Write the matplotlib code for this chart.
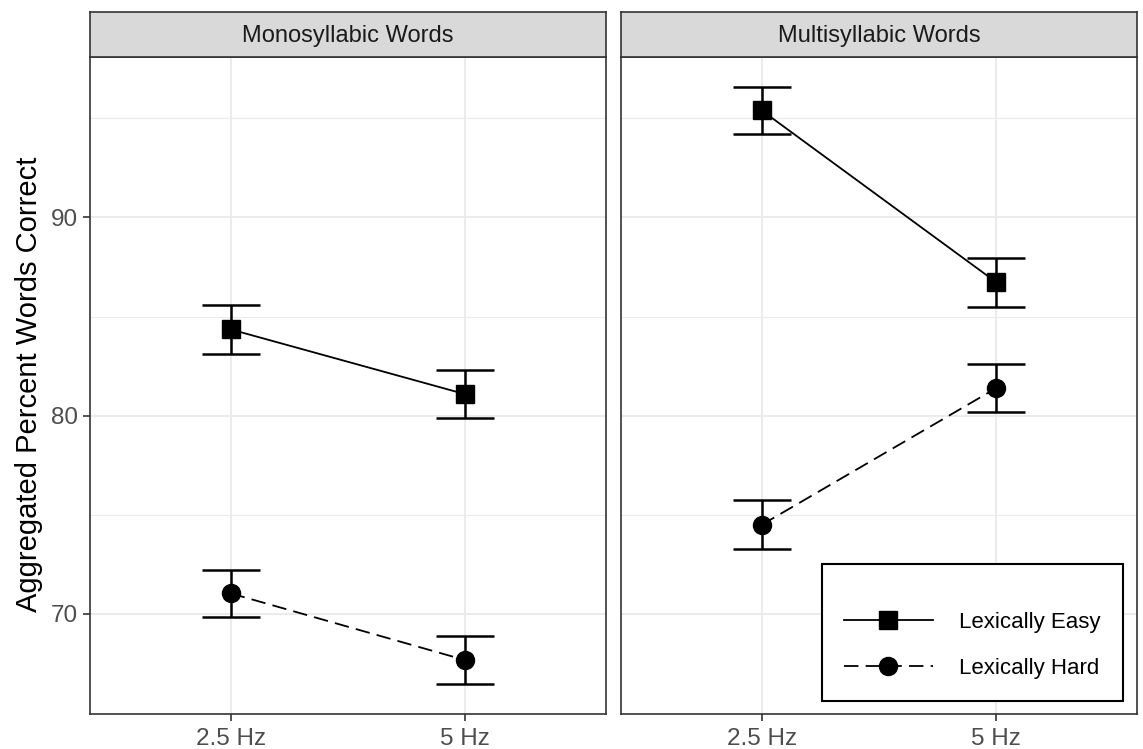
import matplotlib
matplotlib.use("Agg")
import matplotlib.pyplot as plt
import numpy as np

plt.rcParams["font.family"] = ["Liberation Sans", "DejaVu Sans"]

# data
freq_labels = ["2.5 Hz", "5 Hz"]
panel_titles = ["Monosyllabic Words", "Multisyllabic Words"]
series_names = ["Lexically Easy", "Lexically Hard"]

mono_easy = [84.35, 81.08]
mono_easy_se = [1.22, 1.20]
mono_hard = [71.03, 67.66]
mono_hard_se = [1.20, 1.21]

multi_easy = [95.40, 86.73]
multi_easy_se = [1.19, 1.24]
multi_hard = [74.49, 81.39]
multi_hard_se = [1.24, 1.22]

panel_data = [
    [(mono_easy, mono_easy_se), (mono_hard, mono_hard_se)],
    [(multi_easy, multi_easy_se), (multi_hard, multi_hard_se)],
]

# ggplot-like y range: data extent (incl. error bars) + 5% expansion
lows, highs = [], []
for panel in panel_data:
    for vals, se in panel:
        lows += list(np.array(vals) - np.array(se))
        highs += list(np.array(vals) + np.array(se))
ymin, ymax = min(lows), max(highs)
pad = 0.05 * (ymax - ymin)
ylim = (ymin - pad, ymax + pad)

styles = [
    dict(marker="s", linestyle="-"),
    dict(marker="o", linestyle=(0, (8, 4))),
]

W, H = 1143, 749
fig = plt.figure(figsize=(W / 100, H / 100), dpi=100)

panel_left = [90, 621]
panel_w = 516
panel_top, panel_bot = 57, 714
strip_top = 12

x = np.arange(1, len(freq_labels) + 1)
axes = []
for i, (left, title) in enumerate(zip(panel_left, panel_titles)):
    ax = fig.add_axes([left / W, 1 - panel_bot / H, panel_w / W,
                       (panel_bot - panel_top) / H])
    axes.append(ax)
    ax.set_xlim(0.4, 2.6)
    ax.set_ylim(*ylim)
    ax.set_yticks([70, 80, 90])
    ax.set_yticks([75, 85, 95], minor=True)
    ax.set_xticks(x)
    ax.set_xticklabels(freq_labels)
    ax.grid(True, which="major", color="#EBEBEB", linewidth=1.4, zorder=0)
    ax.grid(True, which="minor", axis="y", color="#EBEBEB", linewidth=0.8, zorder=0)
    ax.set_axisbelow(True)
    ax.tick_params(which="major", length=5, width=1.2, color="#333333",
                   labelsize=17.5, labelcolor="#4D4D4D")
    ax.tick_params(axis="x", pad=5)
    ax.tick_params(axis="y", pad=3.5)
    ax.tick_params(which="minor", length=0)
    if i > 0:
        ax.tick_params(axis="y", which="major", length=0, labelleft=False)
    for s in ax.spines.values():
        s.set_color("#333333")
        s.set_linewidth(1.2)

    for (vals, se), name, st in zip(panel_data[i], series_names, styles):
        ax.errorbar(x, vals, yerr=se, fmt="none", ecolor="black",
                    elinewidth=1.8, capsize=21, capthick=1.8, zorder=3)
        ax.plot(x, vals, color="black", linewidth=1.3, markersize=13,
                label=name, zorder=4, **st)

    # facet strip
    sax = fig.add_axes([left / W, 1 - panel_top / H, panel_w / W,
                        (panel_top - strip_top) / H])
    sax.set_xticks([])
    sax.set_yticks([])
    sax.set_facecolor("#D9D9D9")
    for s in sax.spines.values():
        s.set_color("#333333")
        s.set_linewidth(1.2)
    sax.text(0.5, 0.47, title, ha="center", va="center", fontsize=17,
             color="#1A1A1A", transform=sax.transAxes)

leg = axes[1].legend(loc="lower right", bbox_to_anchor=(0.973, 0.02),
                     borderaxespad=0, fontsize=16, handlelength=4.0,
                     handletextpad=1.2, labelspacing=1.12, borderpad=1.0,
                     fancybox=False, framealpha=1, edgecolor="black",
                     title=" ", title_fontsize=1)
leg.get_frame().set_linewidth(1.5)

fig.text(29 / W, 1 - 384 / H, "Aggregated Percent Words Correct",
         rotation=90, ha="center", va="center", fontsize=21, color="black")

fig.savefig("out.png", dpi=100)
